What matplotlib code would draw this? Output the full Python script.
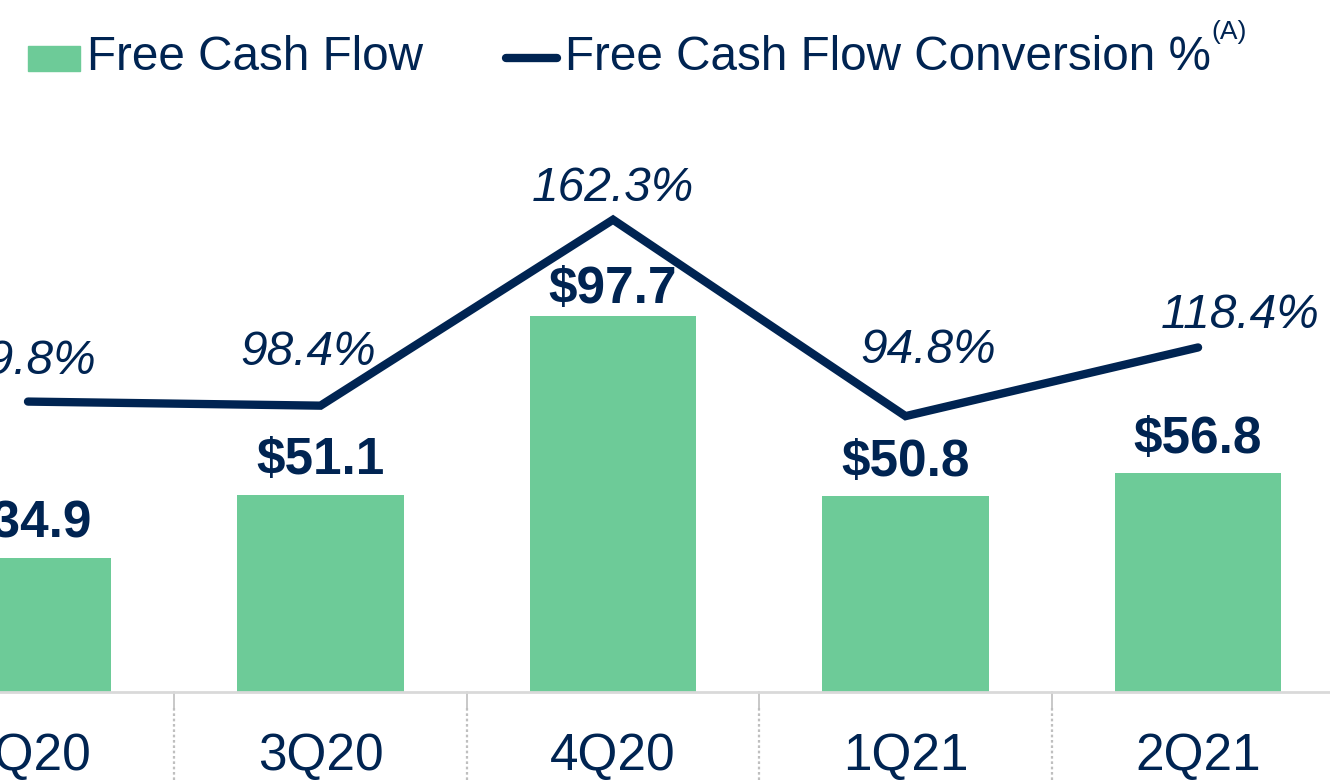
import matplotlib.pyplot as plt
from matplotlib.lines import Line2D
from matplotlib.patches import Rectangle

plt.rcParams['font.family'] = ['Liberation Sans', 'DejaVu Sans']

# data
quarters = ["2Q20", "3Q20", "4Q20", "1Q21", "2Q21"]
fcf = [34.9, 51.1, 97.7, 50.8, 56.8]
conversion = [99.8, 98.4, 162.3, 94.8, 118.4]

green = "#6DCB98"
navy = "#002452"
grey = "#D9D9D9"

fig = plt.figure(figsize=(13.3, 7.81), dpi=100)
ax = fig.add_axes([0, 89 / 781, 1, 692 / 781])
ax2 = ax.twinx()

x = list(range(len(quarters)))
ax.bar(x, fcf, width=0.568, color=green, zorder=2)
ax.set_xlim(-0.0957, 4.451)
ax.set_ylim(0, 179.7)

ax2.plot(x, conversion, color=navy, lw=6, solid_capstyle='round',
         solid_joinstyle='miter', zorder=3)
ax2.set_ylim(0, 237.8)

# bar value labels
bar_offsets = [7, 7, 1, 7, 7]
for xi, v, dy in zip(x, fcf, bar_offsets):
    ax.annotate(f"${v:.1f}", (xi, v), xytext=(0, dy), textcoords='offset points',
                ha='center', va='bottom', fontsize=37, fontweight='bold', color=navy)

# conversion labels
pct_offsets = [(0, 13), (-9, 22), (0, 6), (16, 31), (30, 7)]
for xi, v, (dx, dy) in zip(x, conversion, pct_offsets):
    ax2.annotate(f"{v:.1f}%", (xi, v), xytext=(dx, dy), textcoords='offset points',
                 ha='center', va='bottom', fontsize=34.5, style='italic', color=navy)

for a in (ax, ax2):
    for s in a.spines.values():
        s.set_visible(False)
    a.set_yticks([])
ax.spines['bottom'].set_visible(True)
ax.spines['bottom'].set_color(grey)
ax.spines['bottom'].set_linewidth(2)

ax.set_xticks(x)
ax.set_xticklabels(quarters, fontsize=37, color=navy)
ax.tick_params(axis='x', length=0, pad=29)

# category separators below the axis
for b in [i + 0.5 for i in x[:-1]]:
    ax.plot([b, b], [0, -0.023], transform=ax.get_xaxis_transform(), color="#BFBFBF",
            lw=1.2, clip_on=False)
    ax.plot([b, b], [-0.023, -0.13], transform=ax.get_xaxis_transform(), color="#BFBFBF",
            lw=1.6, ls=(0, (1.2, 1.2)), clip_on=False)

# legend
fig.add_artist(Rectangle((28 / 1330, 1 - 71 / 781), 52 / 1330, 25 / 781,
                         transform=fig.transFigure, color=green))
fig.text(87 / 1330, 1 - 58 / 781, "Free Cash Flow", fontsize=34.3, color=navy,
         va='center', ha='left')
fig.add_artist(Line2D([506 / 1330, 557 / 1330], [1 - 58 / 781, 1 - 58 / 781],
                      transform=fig.transFigure, color=navy, lw=6,
                      solid_capstyle='round'))
fig.text(565 / 1330, 1 - 58 / 781, "Free Cash Flow Conversion %", fontsize=34.3,
         color=navy, va='center', ha='left')
fig.text(1211 / 1330, 1 - 32 / 781, "(A)", fontsize=19, color=navy,
         va='center', ha='left')

fig.savefig("out.png", dpi=100)
